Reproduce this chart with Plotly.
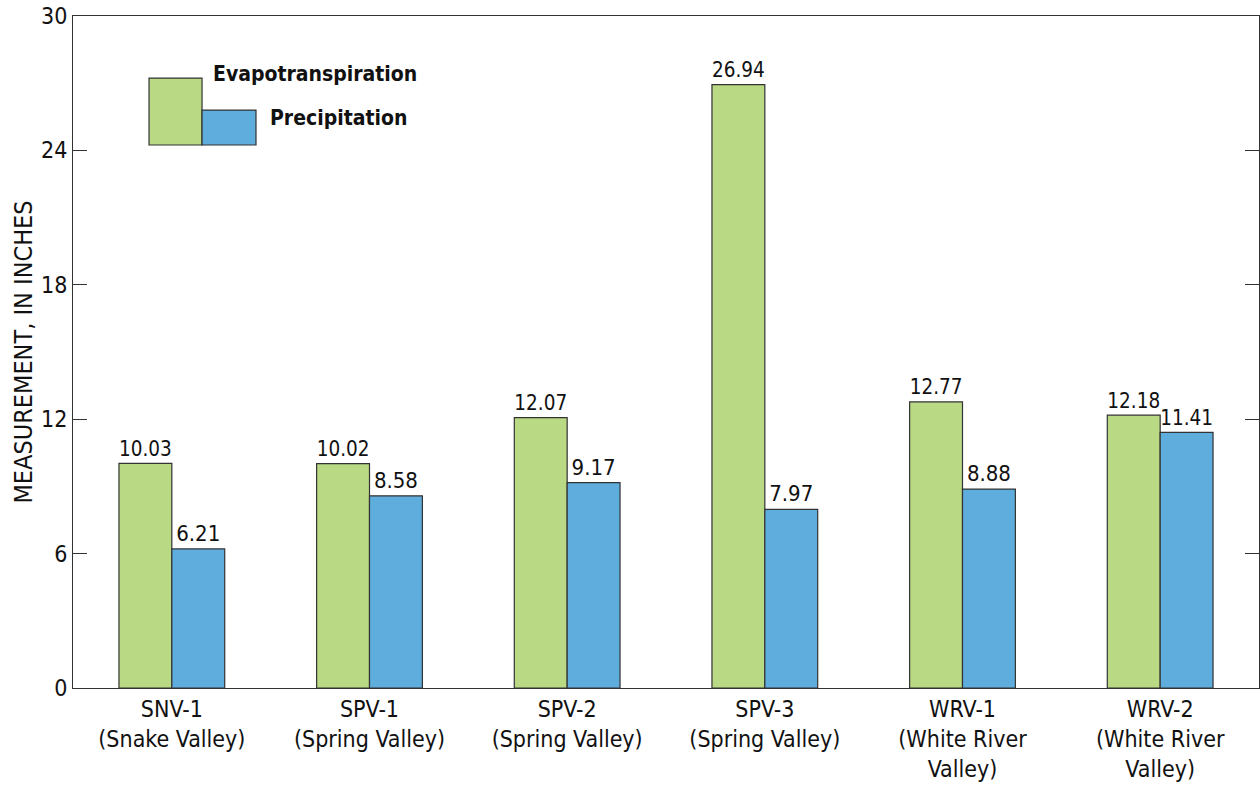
import plotly.graph_objects as go

categories = ["SNV-1<br>(Snake Valley)", "SPV-1<br>(Spring Valley)", "SPV-2<br>(Spring Valley)",
              "SPV-3<br>(Spring Valley)", "WRV-1<br>(White River<br>Valley)", "WRV-2<br>(White River<br>Valley)"]
evapotranspiration = [10.03, 10.02, 12.07, 26.94, 12.77, 12.18]
precipitation = [6.21, 8.58, 9.17, 7.97, 8.88, 11.41]
y_ticks = [0, 6, 12, 18, 24, 30]

FONT = "DejaVu Sans Condensed, Liberation Sans Narrow, Arial Narrow, sans-serif"
GREEN = "#B9D985"
BLUE = "#5EADDD"
LINE = "#333333"

fig = go.Figure()
fig.add_trace(go.Bar(x=categories, y=evapotranspiration, name="Evapotranspiration",
                     marker=dict(color=GREEN, line=dict(color=LINE, width=1.2)),
                     text=[f"{v:.2f}" for v in evapotranspiration], textposition="outside",
                     textfont=dict(size=22, color="#111", family=FONT), cliponaxis=False))
fig.add_trace(go.Bar(x=categories, y=precipitation, name="Precipitation",
                     marker=dict(color=BLUE, line=dict(color=LINE, width=1.2)),
                     text=[f"{v:.2f}" for v in precipitation], textposition="outside",
                     textfont=dict(size=22, color="#111", family=FONT), cliponaxis=False))

fig.update_layout(
    width=1260, height=790,
    margin=dict(l=73, r=1, t=16, b=102),
    barmode="group", bargap=0.465, bargroupgap=0,
    plot_bgcolor="white", paper_bgcolor="white",
    showlegend=False,
    font=dict(family=FONT, size=22, color="#111"),
    xaxis=dict(showline=True, linecolor=LINE, linewidth=1.2, mirror=True, ticks="",
               tickfont=dict(size=23, family=FONT), showgrid=False),
    yaxis=dict(range=[0, 30], tickvals=y_ticks, showline=True, linecolor=LINE, linewidth=1.2,
               mirror="ticks", ticks="inside", ticklen=14, tickcolor=LINE, tickwidth=1.2,
               showgrid=False, zeroline=False, tickfont=dict(size=23, family=FONT),
               title=dict(text="MEASUREMENT, IN INCHES", font=dict(size=25, family=FONT), standoff=1)),
)

# custom legend
x0, x1, x2 = 0.0641, 0.1088, 0.1543
fig.add_shape(type="rect", xref="paper", yref="paper", x0=x0, x1=x1, y0=0.808, y1=0.9077,
              fillcolor=GREEN, line=dict(color=LINE, width=1.2))
fig.add_shape(type="rect", xref="paper", yref="paper", x0=x1, x1=x2, y0=0.808, y1=0.860,
              fillcolor=BLUE, line=dict(color=LINE, width=1.2))
fig.add_annotation(xref="paper", yref="paper", x=(211 - 73) / 1186, y=(688 - 74) / 672,
                   xanchor="left", yanchor="middle", showarrow=False,
                   text="<b>Evapotranspiration</b>", font=dict(size=21, family=FONT, color="#111"))
fig.add_annotation(xref="paper", yref="paper", x=(268 - 73) / 1186, y=(688 - 118) / 672,
                   xanchor="left", yanchor="middle", showarrow=False,
                   text="<b>Precipitation</b>", font=dict(size=21, family=FONT, color="#111"))

fig.write_html("out.html", config={"displayModeBar": False},
               post_script="document.body.style.margin='0';document.body.style.overflow='hidden';")
